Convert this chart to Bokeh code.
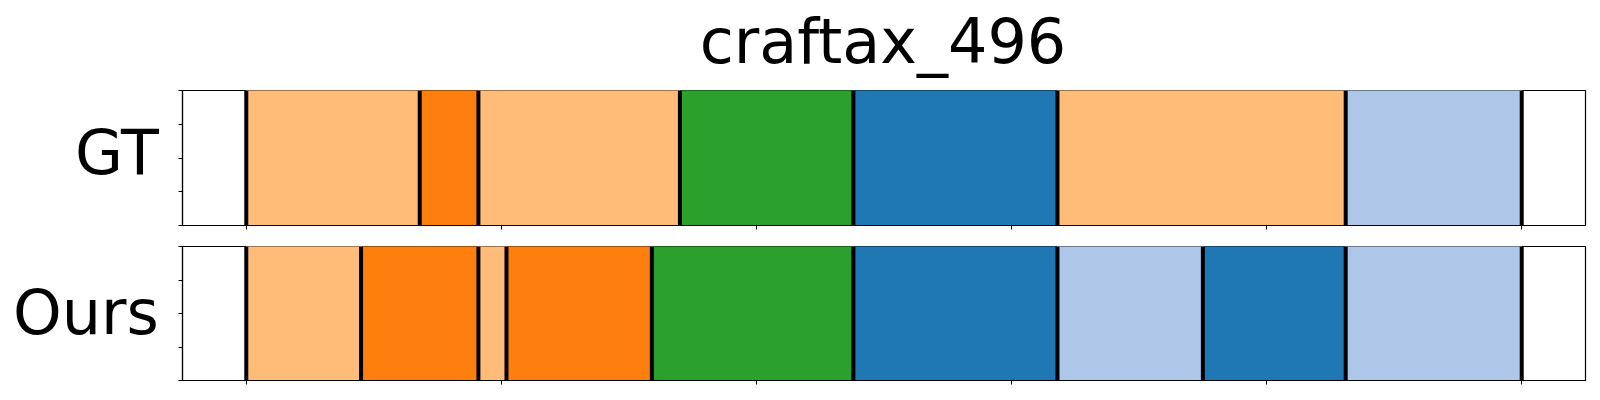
from bokeh.plotting import figure
from bokeh.layouts import column, row
from bokeh.models import Range1d, FixedTicker, ColumnDataSource, CustomLabelingPolicy
from bokeh.core.properties import value
from bokeh.embed import file_html
from bokeh.resources import INLINE

TITLE = "craftax_496"
ROW_LABELS = ["GT", "Ours"]

# segment boundaries (frame indices) and segment colour classes
gt_bounds = [0, 68, 91, 170, 238, 318, 431, 500]
gt_classes = ["light_orange", "orange", "light_orange", "green", "blue", "light_orange", "light_blue"]

ours_bounds = [0, 45, 91, 102, 159, 238, 318, 375, 431, 500]
ours_classes = ["light_orange", "orange", "light_orange", "orange", "green", "blue", "light_blue", "blue", "light_blue"]

palette = {
    "light_orange": "#ffbb78",
    "orange": "#ff7f0e",
    "green": "#2ca02c",
    "blue": "#1f77b4",
    "light_blue": "#aec7e8",
}

x_ticks = [0, 100, 200, 300, 400, 500]
y_ticks = [0, 0.25, 0.5, 0.75, 1.0]

FONT = "DejaVu Sans"
FONT_SIZE = "62px"
TOTAL_W = 1598
LABEL_W = 170
PANEL_W = TOTAL_W - LABEL_W


def blank(width, height):
    f = figure(width=width, height=height, output_backend="svg", toolbar_location=None,
               x_range=Range1d(0, width), y_range=Range1d(0, height),
               x_axis_location=None, y_axis_location=None,
               min_border=0, min_border_left=0, min_border_right=0,
               min_border_top=0, min_border_bottom=0)
    f.grid.visible = False
    f.outline_line_color = None
    return f


def text_fig(width, height, x, y, txt, align):
    f = blank(width, height)
    f.text(x=[x], y=[y], text=[txt], text_font=value(FONT), text_font_size=value(FONT_SIZE),
           text_align=align, text_baseline="alphabetic", text_color="black")
    return f


def make_panel(bounds, classes, height, top, bottom):
    p = figure(width=PANEL_W, height=height, output_backend="svg", toolbar_location=None,
               x_range=Range1d(-25, 525), y_range=Range1d(0, 1),
               min_border_left=182 - LABEL_W, min_border_right=13,
               min_border_top=top, min_border_bottom=bottom)
    p.grid.visible = False
    p.outline_line_color = "black"
    p.outline_line_width = 1.2
    p.outline_line_alpha = 1
    src = ColumnDataSource(dict(
        left=bounds[:-1], right=bounds[1:],
        color=[palette[c] for c in classes],
    ))
    p.quad(left="left", right="right", bottom=0, top=1, fill_color="color",
           line_color="color", line_width=1, source=src)
    p.segment(x0=bounds, y0=[0] * len(bounds), x1=bounds, y1=[1] * len(bounds),
              line_color="black", line_width=4)

    p.xaxis.ticker = FixedTicker(ticks=x_ticks, minor_ticks=[])
    p.yaxis.ticker = FixedTicker(ticks=y_ticks, minor_ticks=[])
    for ax in [p.xaxis[0], p.yaxis[0]]:
        ax.major_label_policy = CustomLabelingPolicy(
            code="for (const i of indices) { indices.unset(i) }\nreturn indices")
        ax.major_label_text_font_size = "0px"
        ax.major_label_standoff = 0
        ax.major_tick_out = 4
        ax.major_tick_in = 0
        ax.major_tick_line_color = "black"
        ax.major_tick_line_width = 1
        ax.axis_line_color = "black"
        ax.axis_line_width = 1.2
    return p


title_fig = text_fig(TOTAL_W, 85, 882.5, 43.7, TITLE, "center")

p1 = make_panel(gt_bounds, gt_classes, height=150, top=5, bottom=10)
lab1 = text_fig(LABEL_W, 150, 158.3, 80.7, ROW_LABELS[0], "right")

p2 = make_panel(ours_bounds, ours_classes, height=155, top=11, bottom=10)
lab2 = text_fig(LABEL_W, 155, 158.3, 78.8, ROW_LABELS[1], "right")

layout = column(title_fig, row(lab1, p1, spacing=0), row(lab2, p2, spacing=0), spacing=0)
open("out.html", "w").write(file_html(layout, INLINE))
